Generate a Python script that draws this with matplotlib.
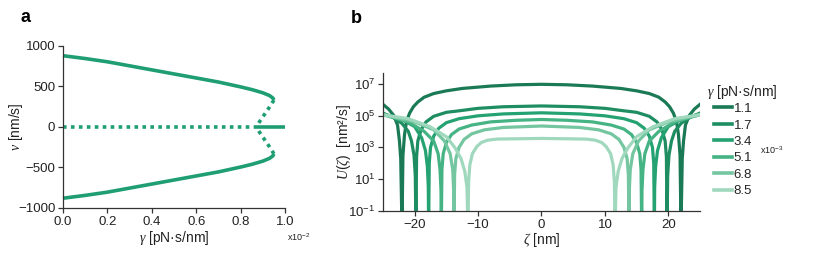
import numpy as np
import matplotlib
matplotlib.use("Agg")
import matplotlib.pyplot as plt
from matplotlib.lines import Line2D

plt.rcParams['font.family'] = ['Liberation Sans', 'DejaVu Sans']
plt.rcParams['mathtext.fontset'] = 'custom'
plt.rcParams['mathtext.rm'] = 'Liberation Sans'
plt.rcParams['mathtext.it'] = 'Liberation Serif:italic'
plt.rcParams['mathtext.default'] = 'it'

# ---------------- panel a data ----------------
gamma_stable = [0.0, 0.1, 0.2, 0.3, 0.4, 0.5, 0.6, 0.7, 0.8, 0.85, 0.9, 0.93, 0.945, 0.95]
v_stable = [880, 845, 805, 755, 705, 655, 605, 555, 495, 462, 422, 388, 358, 332]
gamma_unstable = [0.95, 0.93, 0.91, 0.89, 0.87]
v_unstable = [332, 245, 165, 85, 0]
gamma_zero_dotted = [0.0, 0.87]
gamma_zero_solid = [0.87, 1.0]
a_xticks = [0.0, 0.2, 0.4, 0.6, 0.8, 1.0]
a_yticks = [-1000, -500, 0, 500, 1000]

# ---------------- panel b data (left half, mirrored) ----------------
gamma_labels = ['1.1', '1.7', '3.4', '5.1', '6.8', '8.5']
zeta_1_1 = [-25, -24.1, -23.3, -22.7, -22.4, -22.2, -22.0, -21.85, -21.6, -21.3, -20.8, -20.2, -19.5, -18.5, -17, -15, -12.5, -8, -4, 0]
logU_1_1 = [5.7, 5.4, 5.0, 4.4, 3.4, 2.3, -2, 2.5, 3.8, 4.6, 5.15, 5.55, 5.85, 6.15, 6.38, 6.55, 6.7, 6.85, 6.93, 6.96]
zeta_1_7 = [-25, -23.5, -22, -21, -20.5, -20.1, -19.9, -19.8, -19.7, -19.5, -19.0, -18.2, -17, -15, -12.9, -10, -6, 0]
logU_1_7 = [5.15, 4.9, 4.5, 4.0, 3.4, 2.5, 1.2, -2, 2.4, 3.4, 4.1, 4.6, 4.95, 5.2, 5.3, 5.45, 5.55, 5.6]
zeta_3_4 = [-25, -22, -20, -18.9, -18.3, -18.0, -17.85, -17.8, -17.7, -17.5, -17.0, -16.2, -15, -13, -10, -6, 0]
logU_3_4 = [5.1, 4.75, 4.3, 3.6, 2.8, 1.8, 0.5, -2, 2.0, 3.0, 3.7, 4.2, 4.55, 4.8, 4.98, 5.1, 5.17]
zeta_5_1 = [-25, -21, -18.5, -17, -16.3, -16.0, -15.85, -15.8, -15.7, -15.5, -15.0, -14.2, -13, -11, -8, -4, 0]
logU_5_1 = [5.05, 4.6, 4.0, 3.4, 2.6, 1.6, 0.3, -2, 1.6, 2.6, 3.3, 3.8, 4.15, 4.4, 4.6, 4.7, 4.75]
zeta_6_8 = [-25, -20, -17, -15.3, -14.4, -14.0, -13.85, -13.8, -13.7, -13.5, -13.0, -12.2, -11, -9, -6, 0]
logU_6_8 = [5.05, 4.6, 4.1, 3.4, 2.6, 1.6, 0.3, -2, 1.3, 2.3, 3.0, 3.5, 3.85, 4.1, 4.25, 4.34]
zeta_8_5 = [-25, -21, -17.6, -15, -13.6, -12.7, -12.1, -11.75, -11.6, -11.5, -11.3, -10.9, -10.2, -9.5, -8.5, -7, 0]
logU_8_5 = [5.05, 4.8, 4.3, 3.67, 2.95, 2.3, 1.5, 0.5, -2, 0.8, 1.9, 2.6, 3.05, 3.3, 3.45, 3.52, 3.56]

b_xticks = [-20, -10, 0, 10, 20]
b_yticks = [1e-1, 1e1, 1e3, 1e5, 1e7]
b_yticklabels = [r'$\mathregular{10^{-1}}$', r'$\mathregular{10^{1}}$', r'$\mathregular{10^{3}}$',
                 r'$\mathregular{10^{5}}$', r'$\mathregular{10^{7}}$']

curve_colors = ['#1b7a56', '#1e8e62', '#25a272', '#45b384', '#74c6a0', '#9fd8bd']
a_color = '#1f9e74'
text_color = '#222222'
spine_color = '#333333'

fig = plt.figure(figsize=(8.3, 2.69), dpi=100)

def style(ax):
    for s in ['top', 'right']:
        ax.spines[s].set_visible(False)
    for s in ['left', 'bottom']:
        ax.spines[s].set_color(spine_color)
        ax.spines[s].set_linewidth(0.9)
    ax.tick_params(direction='out', length=3.5, width=0.9, colors=spine_color,
                   labelcolor=text_color, labelsize=9.5, pad=2)

# ---------------- panel a ----------------
axa = fig.add_axes([0.0759, 0.227, 0.2675, 0.602])
style(axa)
lw = 2.6
dots = (0, (1, 1.2))
axa.plot(gamma_stable, v_stable, color=a_color, lw=lw, solid_capstyle='butt')
axa.plot(gamma_stable, [-v for v in v_stable], color=a_color, lw=lw, solid_capstyle='butt')
axa.plot(gamma_unstable, v_unstable, color=a_color, lw=lw, ls=dots, dash_capstyle='butt')
axa.plot(gamma_unstable, [-v for v in v_unstable], color=a_color, lw=lw, ls=dots, dash_capstyle='butt')
axa.plot(gamma_zero_dotted, [0, 0], color=a_color, lw=lw, ls=dots, dash_capstyle='butt')
axa.plot(gamma_zero_solid, [0, 0], color=a_color, lw=lw, solid_capstyle='butt')
axa.set_xlim(0, 1.0)
axa.set_ylim(-1000, 1000)
axa.set_xticks(a_xticks)
axa.set_xticklabels([f'{t:.1f}' for t in a_xticks])
axa.set_yticks(a_yticks)
axa.set_yticklabels(['\u22121000', '\u2212500', '0', '500', '1000'])
axa.set_xlabel(r'$\gamma$ [pN·s/nm]', fontsize=10, color=text_color, labelpad=1)
axa.set_ylabel(r'$v$ [nm/s]', fontsize=10, color=text_color)
axa.yaxis.set_label_coords(-0.17, 0.5)
for l in axa.lines:
    l.set_clip_on(False)
fig.text(0.346, 0.118, r'x10$\mathregular{^{-2}}$', fontsize=6.5, color=text_color, va='center')
fig.text(0.025, 0.935, 'a', fontsize=13, fontweight='bold', va='center')

# ---------------- panel b ----------------
axb = fig.add_axes([0.4614, 0.2156, 0.382, 0.512])
style(axb)
curves = [(zeta_1_1, logU_1_1), (zeta_1_7, logU_1_7), (zeta_3_4, logU_3_4),
          (zeta_5_1, logU_5_1), (zeta_6_8, logU_6_8), (zeta_8_5, logU_8_5)]
handles = []
for (z, lu), c, lab in zip(curves, curve_colors, gamma_labels):
    z_full = list(z) + [-v for v in reversed(z[:-1])]
    lu_full = list(lu) + list(reversed(lu[:-1]))
    axb.plot(z_full, [10 ** v for v in lu_full], color=c, lw=2.3, solid_joinstyle='round')
    handles.append(Line2D([], [], color=c, lw=2.6, label=lab))
axb.set_yscale('log')
axb.set_xlim(-25, 25)
axb.set_ylim(1e-1, 4.5e7)
axb.set_xticks(b_xticks)
axb.set_xticklabels(['\u221220', '\u221210', '0', '10', '20'])
axb.set_yticks(b_yticks)
axb.set_yticklabels(b_yticklabels)
axb.yaxis.set_minor_locator(matplotlib.ticker.NullLocator())
axb.set_xlabel(r'$\zeta$ [nm]', fontsize=10, color=text_color, labelpad=0)
axb.set_ylabel(r'$U(\zeta)$  [nm²/s]', fontsize=10, color=text_color)
axb.yaxis.set_label_coords(-0.095, 0.5)
fig.text(0.423, 0.93, 'b', fontsize=13, fontweight='bold', va='center')

fig.text(0.852, 0.658, r'$\gamma$ [pN·s/nm]', fontsize=10, color=text_color, va='center')
leg = fig.legend(handles=handles, loc='upper left', bbox_to_anchor=(0.849, 0.652),
                 frameon=False, fontsize=9.5, handlelength=1.35, handletextpad=0.15,
                 labelspacing=0.32, borderpad=0.2)
for t in leg.get_texts():
    t.set_color(text_color)
fig.text(0.916, 0.442, r'x10$\mathregular{^{-3}}$', fontsize=6.5, color=text_color, va='center')

fig.savefig('out.png', dpi=100)
